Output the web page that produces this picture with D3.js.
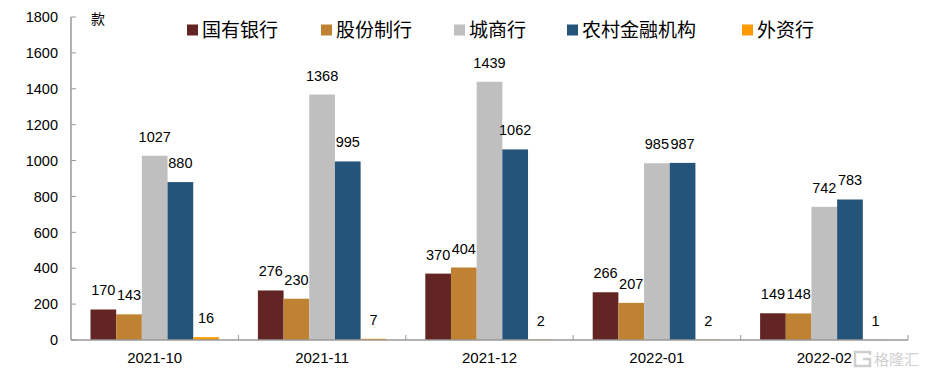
<!DOCTYPE html>
<html>
<head>
<meta charset="utf-8">
<script src="https://cdn.jsdelivr.net/npm/d3@7"></script>
<style>
  body { margin: 0; background: #fff; }
  svg { display: block; }
  text { font-family: "Liberation Sans", Arial, sans-serif; fill: #000; }
  .cn { font-family: "Noto Sans CJK SC", sans-serif; }
</style>
</head>
<body>
<svg width="927" height="375"></svg>
<script>
const categories = ['2021-10', '2021-11', '2021-12', '2022-01', '2022-02'];
const seriesNames = ['国有银行', '股份制行', '城商行', '农村金融机构', '外资行'];
const stateBanks = [170, 276, 370, 266, 149];
const jointStock = [143, 230, 404, 207, 148];
const cityBanks = [1027, 1368, 1439, 985, 742];
const ruralBanks = [880, 995, 1062, 987, 783];
const foreignBanks = [16, 7, 2, 2, 1];
const yTicks = [0, 200, 400, 600, 800, 1000, 1200, 1400, 1600, 1800];

const colors = ['#632523', '#BF8232', '#BFBFBF', '#245479', '#FF9900'];
const series = [stateBanks, jointStock, cityBanks, ruralBanks, foreignBanks];

const svg = d3.select('svg');
const plotLeft = 71, plotRight = 908, plotTop = 17, plotBottom = 340;

const x = d3.scaleBand().domain(categories).range([plotLeft, plotRight]).padding(0);
const inner = d3.scaleBand().domain(seriesNames)
  .range([19.5, x.bandwidth() - 19.5]).padding(0);
const y = d3.scaleLinear().domain([0, 1800]).range([plotBottom, plotTop]);
const color = d3.scaleOrdinal().domain(seriesNames).range(colors);

// bars
const rows = [];
categories.forEach((c, ci) => {
  seriesNames.forEach((s, si) => {
    rows.push({ cat: c, name: s, value: series[si][ci] });
  });
});

svg.append('g')
  .selectAll('rect')
  .data(rows)
  .join('rect')
  .attr('x', d => x(d.cat) + inner(d.name))
  .attr('y', d => y(d.value))
  .attr('width', inner.bandwidth())
  .attr('height', d => plotBottom - y(d.value))
  .attr('fill', d => color(d.name));

// value labels
svg.append('g')
  .selectAll('text')
  .data(rows)
  .join('text')
  .attr('x', d => x(d.cat) + inner(d.name) + inner.bandwidth() / 2)
  .attr('y', d => y(d.value) - 14)
  .attr('text-anchor', 'middle')
  .style('font-size', '14.5px')
  .text(d => d.value);

// y axis
const yAxis = svg.append('g');
yAxis.append('line')
  .attr('x1', plotLeft).attr('x2', plotLeft)
  .attr('y1', plotTop).attr('y2', plotBottom)
  .attr('stroke', '#999').attr('stroke-width', 1.5);
yAxis.selectAll('line.tick')
  .data(yTicks)
  .join('line')
  .attr('class', 'tick')
  .attr('x1', plotLeft).attr('x2', plotLeft + 5)
  .attr('y1', d => y(d)).attr('y2', d => y(d))
  .attr('stroke', '#999').attr('stroke-width', 1);
yAxis.selectAll('text')
  .data(yTicks)
  .join('text')
  .attr('x', 58)
  .attr('y', d => y(d))
  .attr('dy', '0.36em')
  .attr('text-anchor', 'end')
  .style('font-size', '14.5px')
  .text(d => d);

// x axis
const xAxis = svg.append('g');
xAxis.append('line')
  .attr('x1', plotLeft).attr('x2', plotRight)
  .attr('y1', plotBottom).attr('y2', plotBottom)
  .attr('stroke', '#999').attr('stroke-width', 1.5);
xAxis.selectAll('line.tick')
  .data(categories)
  .join('line')
  .attr('class', 'tick')
  .attr('x1', d => x(d) + x.bandwidth()).attr('x2', d => x(d) + x.bandwidth())
  .attr('y1', plotBottom).attr('y2', plotBottom - 5)
  .attr('stroke', '#999').attr('stroke-width', 1);
xAxis.selectAll('text')
  .data(categories)
  .join('text')
  .attr('x', d => x(d) + x.bandwidth() / 2)
  .attr('y', 363)
  .attr('text-anchor', 'middle')
  .style('font-size', '15px')
  .text(d => d);

// unit
svg.append('text')
  .attr('class', 'cn')
  .attr('x', 98).attr('y', 24)
  .attr('text-anchor', 'middle')
  .style('font-size', '14px')
  .text('款');

// legend
const legendX = [187, 321, 454, 567, 742];
const legend = svg.append('g')
  .selectAll('g')
  .data(seriesNames)
  .join('g')
  .attr('transform', (d, i) => `translate(${legendX[i]},30)`);
legend.append('rect')
  .attr('x', 0).attr('y', -5.5)
  .attr('width', 11).attr('height', 11)
  .attr('fill', d => color(d));
legend.append('text')
  .attr('class', 'cn')
  .attr('x', 15).attr('y', 0)
  .attr('dy', '0.36em')
  .style('font-size', '19px')
  .text(d => d);

// watermark
const wm = svg.append('g').attr('transform', 'translate(855,352)');
wm.append('path')
  .attr('d', 'M15,3 V0 H0 V14 H15 V7 H8')
  .attr('fill', 'none').attr('stroke', '#cfcfcf').attr('stroke-width', 2.5);
wm.append('text')
  .attr('class', 'cn')
  .attr('x', 19).attr('y', 13)
  .style('font-size', '15px')
  .style('fill', '#d0d0d0')
  .text('格隆汇');
</script>
</body>
</html>
